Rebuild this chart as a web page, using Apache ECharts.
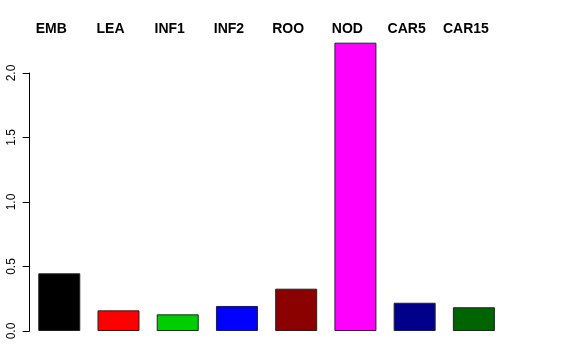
<!DOCTYPE html>
<html>
<head>
<meta charset="utf-8">
<script src="https://cdn.jsdelivr.net/npm/echarts@6/dist/echarts.min.js"></script>
<style>html,body{margin:0;padding:0;background:#fff}#c{width:576px;height:360px}</style>
</head>
<body>
<div id="c"></div>
<script>
const categories = ['EMB', 'LEA', 'INF1', 'INF2', 'ROO', 'NOD', 'CAR5', 'CAR15'];
const values = [0.447, 0.160, 0.129, 0.194, 0.328, 2.235, 0.219, 0.184];
const colors = ['#000000', '#FF0000', '#00CD00', '#0000FF', '#8B0000', '#FF00FF', '#00008B', '#006400'];
const yTicks = [0, 0.5, 1.0, 1.5, 2.0];

const chart = echarts.init(document.getElementById('c'), null, {renderer: 'canvas'});
chart.setOption({
  animation: false,
  backgroundColor: '#ffffff',
  grid: {left: 29.65, right: 72.5, top: 73, bottom: 29},
  xAxis: {
    type: 'category',
    position: 'top',
    data: categories,
    axisLine: {show: false},
    axisTick: {show: false},
    splitLine: {show: false},
    axisLabel: {
      margin: 37,
      fontFamily: 'Liberation Sans, Arial, sans-serif',
      fontWeight: 'bold',
      fontSize: 14,
      color: '#000',
      padding: [0, 16, 0, 0],
      interval: 0
    }
  },
  yAxis: {
    type: 'value',
    min: 0,
    max: 2.0,
    interval: 0.5,
    axisLine: {show: true, lineStyle: {color: '#000', width: 1}},
    axisTick: {show: true, length: 7, lineStyle: {color: '#000'}},
    splitLine: {show: false},
    axisLabel: {
      rotate: 90,
      margin: 12,
      fontFamily: 'Liberation Sans, Arial, sans-serif',
      fontSize: 12,
      color: '#000',
      formatter: v => yTicks.includes(v) ? v.toFixed(1) : ''
    }
  },
  series: [{
    type: 'bar',
    clip: false,
    barWidth: 42,
    data: values.map((v, i) => ({
      value: v,
      itemStyle: {color: colors[i], borderColor: '#222', borderWidth: 1}
    }))
  }]
});
</script>
</body>
</html>
